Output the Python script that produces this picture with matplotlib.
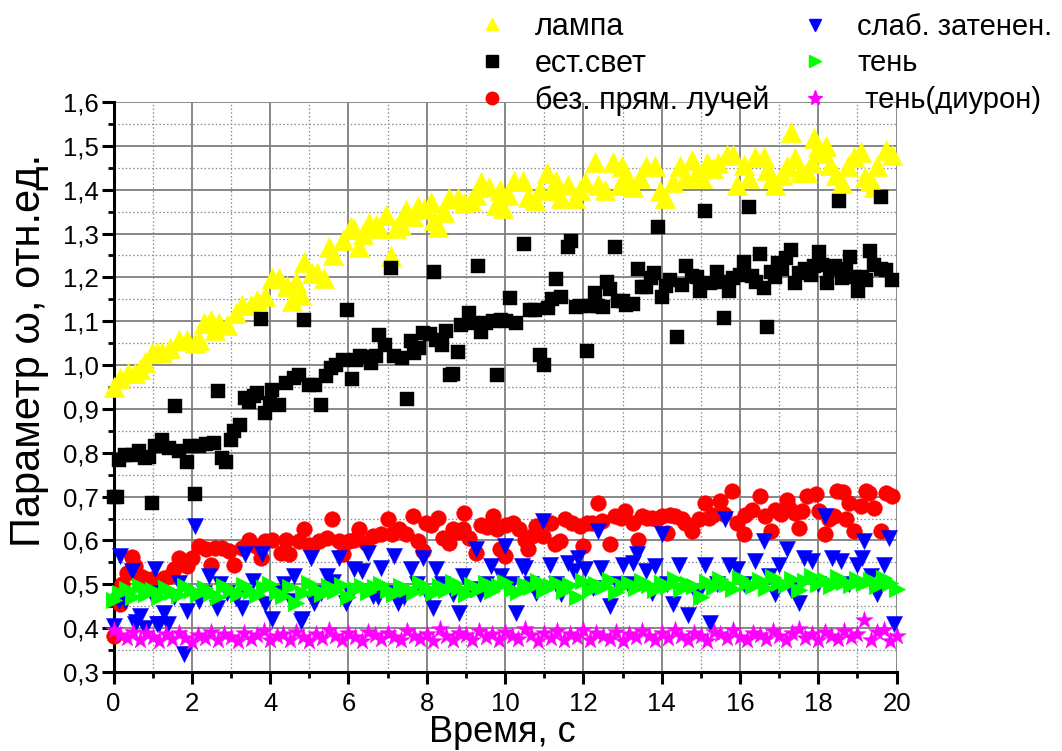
import matplotlib
matplotlib.use("Agg")
import matplotlib.pyplot as plt
from matplotlib.ticker import MultipleLocator, FuncFormatter
from matplotlib.lines import Line2D
import numpy as np

# ---------------- data ----------------
lamp_x = [0.0, 0.17, 0.38, 0.55, 0.68, 0.81, 0.98, 1.10, 1.23, 1.45, 1.66, 1.88, 2.09, 2.18, 2.30, 2.48, 2.60, 2.70, 2.90,
          3.12, 3.29, 3.50, 3.67, 3.88, 4.05, 4.22, 4.44, 4.57, 4.65, 4.78, 4.87, 5.08, 5.20, 5.38, 5.51, 5.60, 5.85,
          6.06, 6.15, 6.27, 6.36, 6.53, 6.70, 6.79, 6.96, 7.08, 7.21, 7.34, 7.47, 7.64, 7.77, 7.94, 8.11, 8.19, 8.28,
          8.45, 8.58, 8.79, 8.96, 9.13, 9.26, 9.39, 9.60, 9.77, 9.86, 9.94, 10.07, 10.24, 10.46, 10.58, 10.76, 10.88,
          11.06, 11.22, 11.31, 11.44, 11.61, 11.78, 11.91, 12.04, 12.29, 12.38, 12.55, 12.76, 12.93, 12.98, 13.10,
          13.27, 13.44, 13.61, 13.83, 13.96, 14.08, 14.30, 14.47, 14.60, 14.77, 14.90, 15.02, 15.15, 15.30, 15.45,
          15.66, 15.83, 15.92, 16.09, 16.22, 16.39, 16.60, 16.69, 16.81, 16.90, 17.07, 17.20, 17.30, 17.41, 17.54,
          17.71, 17.84, 17.88, 18.00, 18.10, 18.20, 18.31, 18.44, 18.61, 18.75, 18.91, 19.08, 19.20, 19.32, 19.42,
          19.50, 19.72, 19.89]
lamp_y = [0.951, 0.971, 0.983, 0.983, 0.990, 1.008, 1.027, 1.030, 1.030, 1.039, 1.058, 1.058, 1.051, 1.058, 1.097, 1.103,
          1.080, 1.097, 1.092, 1.118, 1.138, 1.138, 1.149, 1.157, 1.198, 1.198, 1.180, 1.145, 1.190, 1.160, 1.236,
          1.210, 1.210, 1.198, 1.270, 1.250, 1.286, 1.316, 1.310, 1.270, 1.300, 1.323, 1.320, 1.312, 1.343, 1.248,
          1.313, 1.320, 1.354, 1.340, 1.362, 1.355, 1.373, 1.331, 1.316, 1.350, 1.380, 1.380, 1.370, 1.375, 1.388,
          1.418, 1.405, 1.365, 1.400, 1.358, 1.388, 1.420, 1.420, 1.384, 1.377, 1.400, 1.437, 1.400, 1.420, 1.380,
          1.411, 1.380, 1.400, 1.418, 1.464, 1.410, 1.400, 1.464, 1.410, 1.453, 1.430, 1.407, 1.426, 1.453, 1.453,
          1.396, 1.380, 1.418, 1.455, 1.426, 1.468, 1.440, 1.426, 1.460, 1.450, 1.460, 1.479, 1.479, 1.411, 1.456,
          1.426, 1.475, 1.475, 1.445, 1.426, 1.411, 1.433, 1.455, 1.532, 1.472, 1.441, 1.441, 1.460, 1.517, 1.498,
          1.483, 1.500, 1.456, 1.433, 1.415, 1.453, 1.475, 1.487, 1.430, 1.420, 1.407, 1.453, 1.490, 1.479]

nat_x = [0.0, 0.08, 0.15, 0.30, 0.47, 0.64, 0.81, 0.90, 0.98, 1.07, 1.24, 1.41, 1.58, 1.66, 1.88, 1.96, 2.09, 2.18, 2.35,
         2.56, 2.67, 2.77, 2.88, 2.99, 3.07, 3.24, 3.37, 3.46, 3.58, 3.67, 3.77, 3.88, 3.99, 4.05, 4.22, 4.40, 4.61,
         4.74, 4.87, 4.99, 5.15, 5.29, 5.42, 5.55, 5.68, 5.85, 5.97, 6.09, 6.19, 6.30, 6.40, 6.57, 6.70, 6.79, 6.94,
         7.08, 7.17, 7.38, 7.49, 7.60, 7.68, 7.80, 7.90, 8.07, 8.18, 8.24, 8.39, 8.49, 8.59, 8.68, 8.79, 8.88, 9.09,
         9.18, 9.30, 9.39, 9.52, 9.69, 9.79, 9.90, 10.03, 10.12, 10.29, 10.48, 10.63, 10.76, 10.88, 10.99, 11.10,
         11.21, 11.29, 11.44, 11.61, 11.69, 11.80, 11.91, 12.09, 12.16, 12.29, 12.38, 12.50, 12.59, 12.69, 12.80,
         12.89, 13.00, 13.10, 13.27, 13.40, 13.49, 13.60, 13.72, 13.80, 13.91, 14.00, 14.10, 14.21, 14.40, 14.51,
         14.61, 14.77, 14.90, 14.98, 15.11, 15.24, 15.41, 15.50, 15.60, 15.71, 15.83, 16.00, 16.11, 16.22, 16.30,
         16.42, 16.50, 16.60, 16.70, 16.79, 16.90, 16.96, 17.08, 17.18, 17.30, 17.41, 17.50, 17.67, 17.80, 17.90,
         18.01, 18.10, 18.21, 18.30, 18.42, 18.52, 18.61, 18.70, 18.80, 18.91, 19.01, 19.12, 19.22, 19.32, 19.42,
         19.59, 19.60, 19.72, 19.89]
nat_y = [0.700, 0.700, 0.784, 0.796, 0.796, 0.803, 0.788, 0.790, 0.686, 0.815, 0.830, 0.810, 0.906, 0.803, 0.780, 0.815,
         0.707, 0.815, 0.820, 0.823, 0.940, 0.788, 0.780, 0.830, 0.849, 0.864, 0.925, 0.915, 0.930, 0.936, 1.106,
         0.891, 0.914, 0.944, 0.910, 0.959, 0.970, 0.978, 1.103, 0.955, 0.955, 0.908, 0.974, 0.993, 1.000, 1.012,
         1.125, 0.968, 1.012, 1.020, 1.018, 1.005, 1.020, 1.069, 1.046, 1.221, 1.020, 1.016, 0.923, 1.054, 1.028,
         1.040, 1.073, 1.070, 1.213, 1.058, 1.046, 1.077, 0.978, 0.980, 1.029, 1.092, 1.119, 1.095, 1.226, 1.075,
         1.096, 1.100, 0.978, 1.103, 1.100, 1.153, 1.097, 1.275, 1.126, 1.125, 1.022, 1.001, 1.130, 1.150, 1.196,
         1.156, 1.270, 1.283, 1.132, 1.135, 1.031, 1.135, 1.164, 1.135, 1.132, 1.189, 1.174, 1.270, 1.145, 1.147,
         1.138, 1.140, 1.220, 1.179, 1.178, 1.198, 1.210, 1.315, 1.156, 1.180, 1.195, 1.063, 1.183, 1.225, 1.202,
         1.200, 1.168, 1.352, 1.187, 1.212, 1.190, 1.107, 1.169, 1.198, 1.206, 1.236, 1.361, 1.202, 1.190, 1.253,
         1.176, 1.086, 1.213, 1.200, 1.233, 1.220, 1.244, 1.263, 1.187, 1.210, 1.220, 1.205, 1.225, 1.257, 1.229,
         1.187, 1.220, 1.225, 1.375, 1.198, 1.220, 1.246, 1.200, 1.168, 1.200, 1.195, 1.261, 1.229, 1.383, 1.218,
         1.217, 1.195]

nodir_x = [0.0, 0.17, 0.21, 0.35, 0.47, 0.56, 0.68, 0.77, 0.85, 0.98, 1.10, 1.28, 1.45, 1.55, 1.66, 1.88, 2.00, 2.18, 2.35,
           2.48, 2.60, 2.77, 2.94, 3.07, 3.29, 3.46, 3.63, 3.76, 3.88, 4.05, 4.27, 4.40, 4.48, 4.74, 4.87, 5.00, 5.08,
           5.25, 5.46, 5.59, 5.76, 5.85, 6.02, 6.15, 6.27, 6.45, 6.62, 6.83, 7.00, 7.10, 7.30, 7.47, 7.64, 7.77, 7.90,
           7.98, 8.12, 8.28, 8.41, 8.58, 8.66, 8.80, 8.92, 8.96, 9.09, 9.26, 9.39, 9.55, 9.69, 9.80, 9.86, 9.99, 10.03,
           10.20, 10.35, 10.50, 10.58, 10.68, 10.80, 10.97, 11.18, 11.27, 11.40, 11.52, 11.70, 11.91, 11.99, 12.10,
           12.21, 12.38, 12.47, 12.68, 12.81, 12.95, 13.06, 13.27, 13.40, 13.49, 13.62, 13.74, 13.87, 14.00, 14.13,
           14.21, 14.35, 14.51, 14.60, 14.77, 14.94, 15.11, 15.20, 15.32, 15.49, 15.60, 15.79, 15.92, 16.09, 16.13,
           16.30, 16.50, 16.64, 16.79, 16.90, 17.05, 17.20, 17.25, 17.41, 17.50, 17.59, 17.71, 17.93, 18.01, 18.18,
           18.28, 18.40, 18.48, 18.62, 18.70, 18.78, 18.91, 19.08, 19.21, 19.30, 19.42, 19.59, 19.72, 19.89]
nodir_y = [0.382, 0.454, 0.500, 0.525, 0.563, 0.541, 0.519, 0.515, 0.510, 0.511, 0.500, 0.515, 0.519, 0.535, 0.560, 0.541,
           0.560, 0.587, 0.580, 0.545, 0.583, 0.583, 0.576, 0.545, 0.583, 0.602, 0.587, 0.560, 0.598, 0.602, 0.572,
           0.602, 0.568, 0.598, 0.625, 0.590, 0.587, 0.598, 0.606, 0.648, 0.598, 0.568, 0.598, 0.600, 0.625, 0.595,
           0.610, 0.614, 0.648, 0.614, 0.625, 0.614, 0.655, 0.598, 0.576, 0.640, 0.636, 0.652, 0.606, 0.595, 0.625,
           0.620, 0.625, 0.663, 0.606, 0.572, 0.636, 0.630, 0.655, 0.625, 0.580, 0.564, 0.636, 0.640, 0.625, 0.602,
           0.580, 0.610, 0.633, 0.610, 0.640, 0.591, 0.598, 0.648, 0.640, 0.633, 0.587, 0.640, 0.640, 0.686, 0.644,
           0.591, 0.655, 0.652, 0.667, 0.640, 0.602, 0.655, 0.652, 0.652, 0.650, 0.655, 0.618, 0.659, 0.655, 0.648,
           0.640, 0.621, 0.648, 0.686, 0.652, 0.659, 0.690, 0.660, 0.712, 0.640, 0.614, 0.659, 0.670, 0.701, 0.655,
           0.621, 0.670, 0.660, 0.693, 0.674, 0.663, 0.629, 0.667, 0.701, 0.705, 0.667, 0.614, 0.650, 0.655, 0.712,
           0.710, 0.648, 0.686, 0.621, 0.678, 0.712, 0.709, 0.674, 0.621, 0.709, 0.701]

weak_x = [0.0, 0.13, 0.17, 0.30, 0.47, 0.56, 0.58, 0.68, 0.81, 0.95, 1.07, 1.11, 1.17, 1.28, 1.40, 1.55, 1.66, 1.79, 1.88,
          2.09, 2.18, 2.30, 2.43, 2.64, 2.72, 2.90, 3.12, 3.29, 3.37, 3.55, 3.80, 3.88, 4.05, 4.20, 4.35, 4.52, 4.60,
          4.78, 4.82, 5.04, 5.12, 5.30, 5.46, 5.60, 5.76, 5.93, 6.05, 6.15, 6.35, 6.49, 6.62, 6.75, 6.83, 7.00, 7.17,
          7.26, 7.43, 7.60, 7.75, 7.90, 8.03, 8.15, 8.24, 8.40, 8.66, 8.83, 8.92, 9.10, 9.26, 9.35, 9.50, 9.65, 9.90,
          10.00, 10.15, 10.29, 10.42, 10.50, 10.65, 10.80, 10.97, 11.14, 11.30, 11.44, 11.60, 11.75, 11.87, 12.05,
          12.25, 12.38, 12.46, 12.68, 12.85, 13.02, 13.15, 13.27, 13.36, 13.60, 13.74, 13.83, 14.00, 14.13, 14.30,
          14.45, 14.68, 14.89, 15.11, 15.24, 15.40, 15.62, 15.71, 15.92, 16.10, 16.39, 16.60, 16.75, 16.90, 16.99,
          17.20, 17.29, 17.50, 17.63, 17.84, 18.00, 18.18, 18.35, 18.57, 18.78, 19.00, 19.12, 19.17, 19.35, 19.51,
          19.68, 19.80, 19.93]
weak_y = [0.405, 0.462, 0.564, 0.462, 0.530, 0.409, 0.413, 0.428, 0.401, 0.480, 0.534, 0.409, 0.410, 0.435, 0.409, 0.470,
          0.503, 0.340, 0.439, 0.633, 0.462, 0.480, 0.519, 0.447, 0.500, 0.480, 0.469, 0.447, 0.568, 0.508, 0.568,
          0.454, 0.420, 0.480, 0.500, 0.462, 0.519, 0.416, 0.420, 0.560, 0.458, 0.480, 0.519, 0.505, 0.560, 0.458,
          0.480, 0.534, 0.530, 0.572, 0.473, 0.470, 0.538, 0.480, 0.564, 0.458, 0.470, 0.534, 0.500, 0.560, 0.473,
          0.447, 0.534, 0.500, 0.477, 0.435, 0.519, 0.490, 0.580, 0.477, 0.500, 0.542, 0.519, 0.587, 0.500, 0.435,
          0.542, 0.538, 0.500, 0.481, 0.644, 0.545, 0.500, 0.477, 0.549, 0.530, 0.560, 0.534, 0.492, 0.621, 0.538,
          0.450, 0.500, 0.545, 0.500, 0.549, 0.568, 0.530, 0.481, 0.542, 0.614, 0.500, 0.454, 0.545, 0.431, 0.473,
          0.545, 0.412, 0.500, 0.648, 0.545, 0.534, 0.500, 0.553, 0.598, 0.520, 0.477, 0.545, 0.580, 0.488, 0.458,
          0.560, 0.553, 0.500, 0.655, 0.560, 0.553, 0.500, 0.545, 0.560, 0.598, 0.520, 0.477, 0.545, 0.606, 0.409]

# 'тень' and 'тень(диурон)': one point every 1/6 s from 0 to 20 s
shade_t = np.linspace(0, 20, 121)
shade_y = [0.465, 0.480, 0.490, 0.472, 0.495, 0.478, 0.488, 0.470, 0.492, 0.483, 0.475, 0.497, 0.486, 0.478, 0.492,
           0.481, 0.470, 0.495, 0.487, 0.479,
           0.498, 0.485, 0.476, 0.492, 0.500, 0.483, 0.474, 0.494, 0.458, 0.480,
           0.502, 0.490, 0.477, 0.495, 0.485, 0.498, 0.470, 0.489, 0.496, 0.482,
           0.493, 0.501, 0.486, 0.478, 0.497, 0.490, 0.483, 0.503, 0.492, 0.480,
           0.496, 0.487, 0.505, 0.491, 0.479, 0.498, 0.489, 0.502, 0.484, 0.495,
           0.506, 0.490, 0.482, 0.499, 0.493, 0.508, 0.487, 0.497, 0.503, 0.485,
           0.498, 0.470, 0.507, 0.488, 0.500, 0.494, 0.510, 0.483, 0.496, 0.504,
           0.491, 0.508, 0.499, 0.487, 0.503, 0.495, 0.512, 0.490, 0.501, 0.497,
           0.472, 0.506, 0.493, 0.511, 0.500, 0.489, 0.514, 0.503, 0.496, 0.509,
           0.492, 0.516, 0.504, 0.498, 0.512, 0.487, 0.508, 0.519, 0.501, 0.510,
           0.495, 0.517, 0.505, 0.499, 0.513, 0.502, 0.509, 0.496, 0.514, 0.504,
           0.490]
diuron_y = [0.395, 0.385, 0.378, 0.392, 0.372, 0.388, 0.380, 0.370, 0.386, 0.375, 0.390, 0.378, 0.368, 0.384, 0.377,
            0.392, 0.373, 0.386, 0.380, 0.371,
            0.389, 0.376, 0.384, 0.394, 0.372, 0.381, 0.387, 0.374, 0.391, 0.379,
            0.370, 0.386, 0.377, 0.396, 0.382, 0.373, 0.388, 0.379, 0.371, 0.392,
            0.384, 0.375, 0.389, 0.380, 0.372, 0.393, 0.383, 0.376, 0.387, 0.370,
            0.398, 0.381, 0.374, 0.390, 0.385, 0.372, 0.394, 0.379, 0.386, 0.373,
            0.391, 0.382, 0.376, 0.399, 0.384, 0.371, 0.388, 0.378, 0.393, 0.374,
            0.386, 0.380, 0.395, 0.373, 0.389, 0.382, 0.376, 0.392, 0.370, 0.387,
            0.379, 0.394, 0.383, 0.372, 0.390, 0.377, 0.396, 0.381, 0.374, 0.388,
            0.383, 0.371, 0.392, 0.386, 0.377, 0.395, 0.380, 0.373, 0.389, 0.384,
            0.376, 0.393, 0.381, 0.372, 0.390, 0.397, 0.378, 0.386, 0.374, 0.391,
            0.383, 0.375, 0.394, 0.380, 0.387, 0.418, 0.373, 0.392, 0.396, 0.371,
            0.382]

labels = ["лампа", "ест.свет", "без. прям. лучей", "слаб. затенен.", "тень", " тень(диурон)"]
x_ticks = [0, 2, 4, 6, 8, 10, 12, 14, 16, 18, 20]
y_ticks = [0.3, 0.4, 0.5, 0.6, 0.7, 0.8, 0.9, 1.0, 1.1, 1.2, 1.3, 1.4, 1.5, 1.6]

# ---------------- figure ----------------
plt.rcParams['font.family'] = ['Liberation Sans', 'DejaVu Sans']
fig = plt.figure(figsize=(10.62, 7.51), dpi=100)
ax = fig.add_axes([0.1069, 0.1052, 0.7374, 0.7590])

series = [
    (lamp_x, lamp_y, '^', '#FFFF00', 215),
    (nat_x, nat_y, 's', '#000000', 100),
    (nodir_x, nodir_y, 'o', '#FF0000', 128),
    (weak_x, weak_y, 'v', '#0000FF', 135),
    (shade_t, shade_y, '>', '#00FF00', 145),
    (shade_t, diuron_y, '*', '#FF00FF', 175),
]
for i, (xs, ys, m, c, s) in enumerate(series):
    ax.scatter(xs, ys, marker=m, s=s, c=c, edgecolors=c, linewidths=0.3, zorder=3 + i, clip_on=False)

ax.set_xlim(0, 20)
ax.set_ylim(0.3, 1.6)
ax.set_xticks(x_ticks)
ax.set_yticks(y_ticks)
ax.xaxis.set_minor_locator(MultipleLocator(1))
ax.yaxis.set_minor_locator(MultipleLocator(0.05))
ax.yaxis.set_major_formatter(FuncFormatter(lambda v, p: f"{v:.1f}".replace('.', ',')))
ax.xaxis.set_major_formatter(FuncFormatter(lambda v, p: f"{v:.0f}"))

ax.set_axisbelow(True)
ax.grid(which='major', color='#7f7f7f', linewidth=1.3, linestyle='-')
ax.grid(which='minor', color='#8a8a8a', linewidth=0.9, linestyle=(0, (1.2, 1.8)))

for side in ['top', 'right']:
    ax.spines[side].set_visible(False)
for side in ['left', 'bottom']:
    ax.spines[side].set_linewidth(2.2)

ax.tick_params(which='major', direction='out', length=8.5, width=2.2, labelsize=18.5)
ax.tick_params(axis='y', which='major', pad=2)
ax.tick_params(axis='x', which='major', pad=6)
ax.tick_params(which='minor', direction='out', length=4.5, width=2.0)

ax.set_xlabel("Время, с", fontsize=26, va='top')
ax.set_ylabel("Параметр ω, отн.ед.", fontsize=30, va='bottom')
ax.xaxis.set_label_coords(0.497, -0.076)
ax.yaxis.set_label_coords(-0.082, 0.565)

# legend (two columns, as two legends)
handles = []
for (xs, ys, m, c, s) in series:
    handles.append(Line2D([], [], linestyle='none', marker=m, markersize=9 if m != '*' else 11,
                          markerfacecolor=c, markeredgecolor=c))
leg1 = fig.legend(handles[:3], labels[:3], loc='upper left', bbox_to_anchor=(477 / 1062, 1 - 12 / 751),
                  frameon=False, fontsize=22, handlelength=1.0, handletextpad=0.9,
                  labelspacing=0.22, borderpad=0, borderaxespad=0)
leg2 = fig.legend(handles[3:], labels[3:], loc='upper left', bbox_to_anchor=(800 / 1062, 1 - 13 / 751),
                  frameon=False, fontsize=21, handlelength=1.0, handletextpad=0.97,
                  labelspacing=0.29, borderpad=0, borderaxespad=0)

fig.savefig("out.png", dpi=100)
